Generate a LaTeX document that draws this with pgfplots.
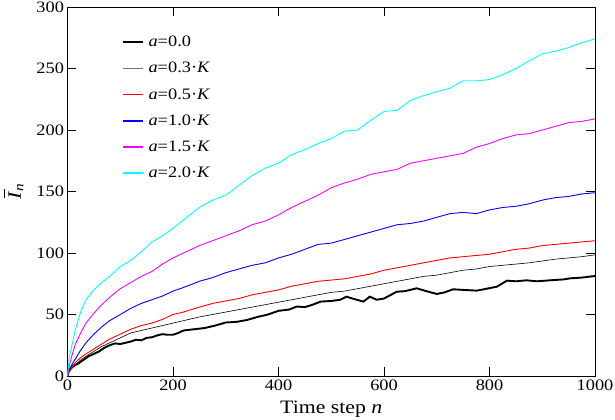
\documentclass[border=0pt]{standalone}
\usepackage{fontspec}
\setmainfont{Liberation Serif}[FakeStretch=1.15]
\usepackage{pgfplots}
\pgfplotsset{compat=1.18}
\definecolor{mycyan}{rgb}{0,1,1}
\definecolor{mymagenta}{rgb}{1,0,1}
\definecolor{myred}{rgb}{1,0,0}
\definecolor{myblue}{rgb}{0,0,1}
\newcommand{\barI}{\makebox[0pt][l]{\hspace{1.5bp}\raisebox{15.5bp}{\rule{9bp}{1.2bp}}}\textit{I}}
\begin{document}
\begin{tikzpicture}
\begin{axis}[name=ax, scale only axis, width=527.5bp, height=369bp,
 xmin=0,xmax=1000,ymin=0,ymax=300,
 xtick={0,200,...,1000}, ytick={0,50,...,300},
 tick align=inside, major tick length=9bp, minor tick num=0,
 axis line style={line width=0.8bp},
 every tick/.style={line width=0.8bp, black},
 ticklabel style={font=\fontsize{16}{19}\selectfont},
 /pgf/number format/assume math mode=true, /pgf/number format/1000 sep={},
 xlabel={Time step \textit{n}},
 ylabel={\barI\textsubscript{\textit{n}}},
 label style={font=\fontsize{19}{22}\selectfont},
 xlabel style={at={(axis description cs:0.5,0)}, anchor=base, yshift=-37bp},
 ylabel style={at={(axis description cs:-0.102,0.5)}, anchor=center},
 legend style={draw=none, fill=none, at={(axis cs:103.3,278.2)}, anchor=north west,
   font=\fontsize{16}{19}\selectfont, row sep=10.2bp, inner sep=0pt},
 legend cell align=left,
 legend image code/.code={\draw[#1] (0bp,0bp) -- (20bp,0bp); \path (22bp,0bp);},
]
% a = 0.0
\addplot[black, line width=1.9bp, legend image post style={line width=2.4bp}] coordinates {
(0,0) (2,4) (5,6) (10,8) (15,9) (20,10) (30,13) (40,16) (50,18) (60,20) (70,23) (80,25)
(90,26.5) (100,26) (110,27) (120,28) (130,29.5) (140,29) (150,31) (160,31.5) (170,33)
(180,34) (190,33.5) (200,33.5) (210,35) (220,37) (240,38) (260,39) (280,41) (300,43.5)
(320,44) (340,45.5) (360,48) (380,50) (400,53) (420,54) (435,56.5) (450,56) (465,58)
(480,60.5) (500,61) (517,62) (529,64.5) (540,63) (561,60.5) (573,64.5) (586,62) (600,63)
(624,68.5) (640,69) (662,71.3) (680,69) (700,66.7) (715,68) (731,70.5) (750,70) (776,69.4)
(795,71) (814,72.6) (833,77.5) (850,77) (870,77.8) (890,77) (921,78) (940,78.5) (953,79.4)
(975,80) (1000,81.3)
};
\addlegendentry{\textit{a}=0.0}
% a = 0.3K
\addplot[black, line width=0.6bp, legend image post style={line width=1.1bp, black!55}] coordinates {
(0,0) (3,3) (8,6) (15,9) (25,13) (35,16) (50,20) (65,24) (80,27) (100,31) (120,35) (140,37)
(160,39) (180,41) (200,43) (220,45) (250,48) (275,50) (300,52) (325,54) (350,56) (375,58)
(400,60) (425,62) (450,64) (475,66) (500,68) (525,69) (550,71) (575,73) (600,75) (625,77)
(650,79) (675,81) (700,82) (725,84) (750,86) (775,87) (800,89) (825,90) (850,91) (875,92)
(900,93.5) (925,95) (950,96) (975,97) (1000,98.5)
};
\addlegendentry{\textit{a}=0.3·\textit{K}}
% a = 0.5K
\addplot[myred, line width=0.9bp, legend image post style={line width=1.4bp}] coordinates {
(0,0) (3,4) (8,7) (15,11) (25,15) (35,18) (50,22) (65,26) (80,30) (100,34) (120,38) (140,41)
(160,43) (180,46) (200,50) (220,52) (250,56) (275,59) (300,61) (325,63) (350,66) (375,68)
(400,70) (425,73) (450,75) (475,77) (500,78) (525,79) (550,81) (575,83) (600,86) (625,88)
(650,90) (675,92) (700,94) (725,96) (750,97) (775,98) (800,99) (825,101) (850,103) (875,104)
(900,106) (925,107) (950,108) (975,109) (1000,110)
};
\addlegendentry{\textit{a}=0.5·\textit{K}}
% a = 1.0K
\addplot[myblue, line width=0.9bp, legend image post style={line width=1.4bp}] coordinates {
(0,0) (3,5) (8,9) (15,14) (25,21) (35,27) (50,34) (65,40) (80,45) (100,50) (120,55) (140,59)
(160,62) (180,65) (200,69) (220,72) (250,77) (275,80) (300,84) (325,87) (350,90) (375,92)
(400,96) (425,99) (450,103) (475,107) (500,108) (525,111) (550,114) (575,117) (600,120)
(625,123) (650,124) (675,126) (700,129) (725,132) (750,133) (775,132) (800,135) (825,137)
(850,138) (875,140) (900,143) (925,145) (950,146) (975,148) (1000,149)
};
\addlegendentry{\textit{a}=1.0·\textit{K}}
% a = 1.5K
\addplot[mymagenta, line width=0.9bp, legend image post style={line width=1.4bp}] coordinates {
(0,0) (3,8) (8,16) (15,26) (25,35) (35,43) (50,51) (65,58) (80,64) (100,71) (120,76) (140,81)
(160,85) (180,91) (200,96) (220,100) (250,106) (275,110) (300,114) (325,118) (350,123)
(375,126) (400,131) (425,137) (450,142) (475,147) (500,153) (525,157) (550,160) (575,164)
(600,166) (625,168) (650,173) (675,175) (700,177) (725,179) (750,181) (775,186) (800,189)
(825,193) (850,196) (875,197) (900,200) (925,203) (950,206) (975,207) (1000,209)
};
\addlegendentry{\textit{a}=1.5·\textit{K}}
% a = 2.0K
\addplot[mycyan, line width=0.9bp, legend image post style={line width=1.8bp, mycyan}] coordinates {
(0,0) (3,14) (8,24) (15,38) (25,52) (35,62) (50,70) (65,76) (80,81) (100,89) (120,94)
(140,101) (160,109) (180,114) (200,120) (220,127) (250,137) (275,143) (300,147) (325,155)
(350,163) (375,169) (400,173) (425,180) (450,184) (475,189) (500,193) (525,199) (550,200)
(575,208) (600,215) (625,216) (650,224) (675,228) (700,231) (725,234) (750,240) (775,240)
(800,241) (825,245) (850,250) (875,256) (900,262) (925,264) (950,267) (975,271) (1000,274)
};
\addlegendentry{\textit{a}=2.0·\textit{K}}
\end{axis}
\pgfresetboundingbox
\useasboundingbox ([shift={(-67.5bp,-44bp)}]ax.south west) rectangle ([shift={(547.5bp,376bp)}]ax.south west);
\end{tikzpicture}
\end{document}
